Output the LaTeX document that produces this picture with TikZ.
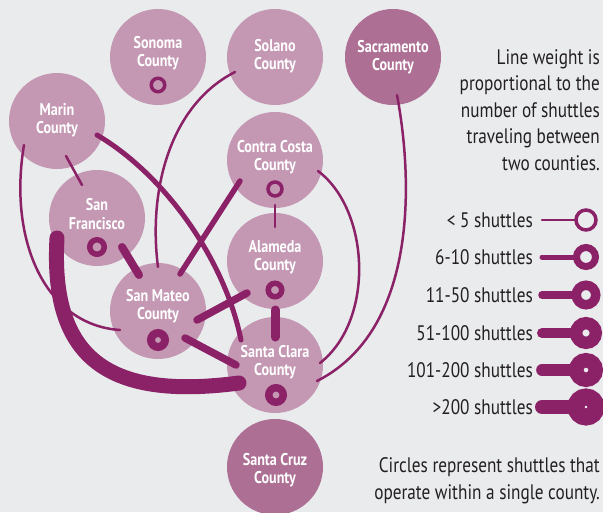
\documentclass[tikz,border=0pt]{standalone}
\usepackage{fontspec}
\setmainfont{PT Sans}[FakeStretch=0.82]
\newfontfamily\countyfont{PT Sans}[FakeStretch=0.83]
\definecolor{paper}{HTML}{E9EBED}
\definecolor{cmauve}{HTML}{C497B3}
\definecolor{cdark}{HTML}{AD6F94}
\definecolor{cline}{HTML}{8B2167}
\definecolor{ctext}{HTML}{231F20}

\begin{document}
\begin{tikzpicture}[x=1pt,y=-1pt,
  county/.style={circle,fill=cmauve,minimum size=96pt,inner sep=0pt},
  farcounty/.style={county,fill=cdark},
  cname/.style={text=white,font=\countyfont\bfseries\fontsize{17}{18.5}\selectfont,align=center,inner sep=0pt},
  link/.style={draw=cline,line cap=round,line width=#1},
  ring/.style={draw=cline,line width=#1},
  note/.style={text=ctext,font=\fontsize{21}{26.5}\selectfont,align=right,inner sep=0pt}]
\fill[paper] (0,0) rectangle (603,512);
\useasboundingbox (0,0) rectangle (603,512);

% counties
\node[county] (sonoma) at (158,57) {};
\node[county] (solano) at (275,57) {};
\node[farcounty] (sacramento) at (393,57) {};
\node[county] (marin) at (57,121) {};
\node[county] (sf) at (97,218) {};
\node[county] (contracosta) at (275,160) {};
\node[county] (alameda) at (275,261) {};
\node[county] (sanmateo) at (158,311) {};
\node[county] (santaclara) at (275,365) {};
\node[farcounty] (santacruz) at (275,467) {};

\node[cname] (sonoma-t) at (158,53) {Sonoma\\County};
\node[cname] (solano-t) at (275,56) {Solano\\County};
\node[cname] (sacramento-t) at (393,57) {Sacramento\\County};
\node[cname] (marin-t) at (57,120) {Marin\\County};
\node[cname] (sf-t) at (97,214) {San\\Francisco};
\node[cname] (contracosta-t) at (275,157) {Contra Costa\\County};
\node[cname] (alameda-t) at (275,257) {Alameda\\County};
\node[cname] (sanmateo-t) at (158,306) {San Mateo\\County};
\node[cname] (santaclara-t) at (275,362) {Santa Clara\\County};
\node[cname] (santacruz-t) at (275,470) {Santa Cruz\\County};

% shuttles between counties
\draw[link=2.5pt] ([shift={(9,35)}]marin.center) -- ([shift={(-15,-33)}]sf.center);
\draw[link=2.5pt] ([shift={(-33,24)}]marin.center) .. controls (8,240) and (45,325) .. ([shift={(-38,19)}]sanmateo.center);
\draw[link=2.5pt] ([shift={(-40,15)}]solano.center) .. controls (170,105) and (148,190) .. ([shift={(0,-44)}]sanmateo.center);
\draw[link=2.5pt] ([shift={(0,45)}]contracosta.center) -- ([shift={(0,-34)}]alameda.center);
\draw[link=2.5pt] ([shift={(43,11)}]contracosta.center) .. controls (370,210) and (375,320) .. ([shift={(45,-2)}]santaclara.center);
\draw[link=2.5pt] ([shift={(4,38)}]sacramento.center) .. controls (413,180) and (418,330) .. ([shift={(42,16)}]santaclara.center);
\draw[link=5pt] ([shift={(40,14)}]marin.center) .. controls (165,175) and (225,260) .. ([shift={(-34,-25)}]santaclara.center);
\draw[link=5.5pt] ([shift={(-35,21)}]contracosta.center) -- ([shift={(22,-37)}]sanmateo.center);
\draw[link=8pt] ([shift={(25,29)}]sf.center) -- ([shift={(-19,-36)}]sanmateo.center);
\draw[link=7.5pt] ([shift={(-28,32)}]alameda.center) -- ([shift={(39,9)}]sanmateo.center);
\draw[link=7.5pt] ([shift={(27,27)}]sanmateo.center) -- ([shift={(-39,0)}]santaclara.center);
\draw[link=9pt] ([shift={(0,49)}]alameda.center) -- ([shift={(0,-28)}]santaclara.center);
\draw[link=15pt] ([shift={(-40,20)}]sf.center) .. controls (50,360) and (110,400) .. ([shift={(-36,18)}]santaclara.center);

% shuttles within one county
\draw[ring=3.5pt] ([shift={(0,28)}]sonoma.center) circle (6.75pt);
\draw[ring=3.5pt] ([shift={(0,29)}]contracosta.center) circle (7pt);
\draw[ring=5.5pt] ([shift={(0,29)}]sf.center) circle (7.25pt);
\draw[ring=5.5pt] ([shift={(0,29)}]alameda.center) circle (6.75pt);
\draw[ring=8pt] ([shift={(0,29)}]sanmateo.center) circle (7pt);
\draw[ring=7.5pt] ([shift={(1,30)}]santaclara.center) circle (7.25pt);

% legend
\node[note,anchor=east] (weight) at (600,110) {Line weight is\\proportional to the\\number of shuttles\\traveling between\\two counties.};
\foreach \i/\yy/\txt/\lw/\rr/\rw in {1/220/< 5 shuttles/2.5/10/3.5,
    2/257/6-10 shuttles/5/9.5/7,
    3/295/11-50 shuttles/7.5/9.75/9.5,
    4/333/51-100 shuttles/10/9.85/12.3,
    5/370/101-200 shuttles/11.7/9.75/14.5,
    6/407/>200 shuttles/14/10/17} {
  \node[note,anchor=east] (key\i) at (533,\yy) {\txt};
  \coordinate (dot\i) at (586,\yy);
  \draw[link=\lw pt] ([xshift=9pt]key\i.east) -- ([xshift=-\rr pt]dot\i);
  \draw[ring=\rw pt] (dot\i) circle (\rr pt);
}
\node[note,anchor=east] (within) at (600,480.5) {Circles represent shuttles that\\operate within a single county.};
\end{tikzpicture}
\end{document}
